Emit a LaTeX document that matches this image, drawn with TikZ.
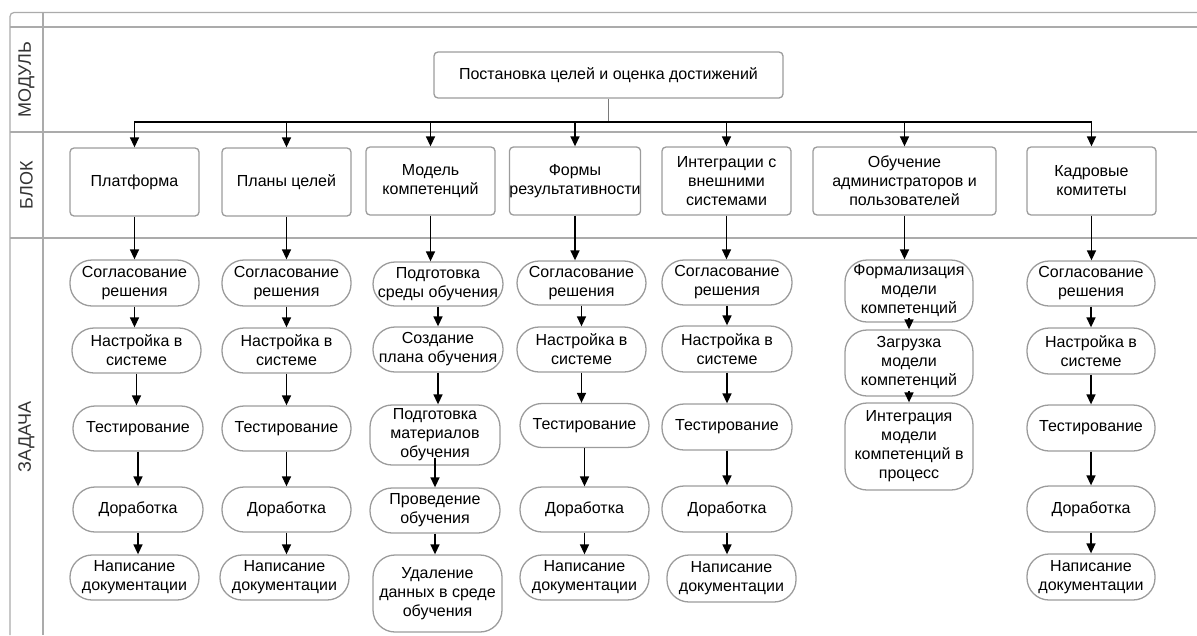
\documentclass[tikz,border=0pt]{standalone}
\usepackage{fontspec}
\setmainfont{Liberation Sans}
\usetikzlibrary{arrows.meta}
\definecolor{frameline}{HTML}{ABABAB}
\definecolor{boxline}{HTML}{9C9C9C}
\definecolor{lanetext}{HTML}{333333}
\definecolor{stemline}{HTML}{7A7A7A}

\begin{document}
\begin{tikzpicture}[x=1pt,y=-1pt,
  txt/.style={font=\fontsize{16}{19}\selectfont, align=center, text=black},
  blockbox/.style={txt, draw=boxline, line width=1.3pt, rounded corners=4pt, fill=white,
    inner sep=0pt, minimum width=129pt, minimum height=68pt},
  taskbox/.style={txt, draw=boxline, line width=1.3pt, rounded corners=22pt, fill=white,
    inner sep=0pt, minimum width=129pt, minimum height=45pt},
  flow/.style={line width=1.5pt, -{Triangle[length=10pt,width=9pt]}},
  lane/.style={draw=frameline, line width=1.2pt},
  lanelabel/.style={font=\fontsize{18}{20}\selectfont, text=lanetext, rotate=90}]

\useasboundingbox (0,0) rectangle (1197,635);

% swimlane frame
\draw[lane, rounded corners=4pt] (10,635) -- (10,12.5) -- (1197,12.5);
\draw[lane] (10,27) -- (1197,27);
\draw[lane] (10,132) -- (1197,132);
\draw[lane] (10,238) -- (1197,238);
\draw[lane] (43,12.5) -- (43,635);

\node[lanelabel] (lmod) at (26.5,79.5) {МОДУЛЬ};
\node[lanelabel] (lblk) at (26.5,185) {БЛОК};
\node[lanelabel] (ltsk) at (26.5,437) {ЗАДАЧА};

% module
\node[blockbox, minimum width=349pt, minimum height=46pt] (top) at (608.5,75)
  {Постановка целей и оценка достижений};

% blocks
\node[blockbox] (b1) at (134.5,182) {Платформа};
\node[blockbox] (b2) at (286.5,182) {Планы целей};
\node[blockbox] (b3) at (430.5,181) {Модель\\компетенций};
\node[blockbox, minimum width=128pt] (b4) at (575,181) {Формы\\результативности};
\node[blockbox] (b5) at (726.5,181) {Интеграции с\\внешними\\системами};
\node[blockbox, minimum width=183pt] (b6) at (904.5,181) {Обучение\\администраторов и\\пользователей};
\node[blockbox] (b7) at (1091.5,181) {Кадровые\\комитеты};

% tasks: Платформа
\node[taskbox, minimum height=46pt] (t11) at (134.5,283) {Согласование\\решения};
\node[taskbox] (t12) at (136.5,350.5) {Настройка в\\системе};
\node[taskbox, minimum width=130pt] (t13) at (138,428.5) {Тестирование};
\node[taskbox, minimum width=130pt] (t14) at (138,509.5) {Доработка};
\node[taskbox] (t15) at (134.5,577.5) {Написание\\документации};

% tasks: Планы целей
\node[taskbox, minimum height=46pt] (t21) at (286.5,283) {Согласование\\решения};
\node[taskbox] (t22) at (286.5,350.5) {Настройка в\\системе};
\node[taskbox] (t23) at (286.5,428.5) {Тестирование};
\node[taskbox] (t24) at (286.5,509.5) {Доработка};
\node[taskbox] (t25) at (284.5,577.5) {Написание\\документации};

% tasks: Модель компетенций
\node[taskbox, minimum width=130pt, minimum height=44pt] (t31) at (438,284) {Подготовка\\среды обучения};
\node[taskbox, minimum width=130pt] (t32) at (438,349.5) {Создание\\плана обучения};
\node[taskbox, minimum width=130pt, minimum height=60pt] (t33) at (435,435) {Подготовка\\материалов\\обучения};
\node[taskbox, minimum width=130pt] (t34) at (435,510.5) {Проведение\\обучения};
\node[taskbox, minimum height=77pt] (t35) at (437.5,593.5) {Удаление\\данных в среде\\обучения};

% tasks: Формы результативности
\node[taskbox, minimum height=44pt] (t41) at (581.5,283) {Согласование\\решения};
\node[taskbox] (t42) at (581.5,349.5) {Настройка в\\системе};
\node[taskbox, minimum height=44pt] (t43) at (584.5,425.5) {Тестирование};
\node[taskbox] (t44) at (584.5,509.5) {Доработка};
\node[taskbox] (t45) at (584.5,577.5) {Написание\\документации};

% tasks: Интеграции с внешними системами
\node[taskbox, minimum width=130pt] (t51) at (727,282.5) {Согласование\\решения};
\node[taskbox, minimum width=130pt, minimum height=46pt] (t52) at (727,349) {Настройка в\\системе};
\node[taskbox, minimum width=130pt, minimum height=46pt] (t53) at (727,427) {Тестирование};
\node[taskbox, minimum width=130pt, minimum height=46pt] (t54) at (727,509) {Доработка};
\node[taskbox, minimum height=47pt] (t55) at (731.5,578.5) {Написание\\документации};

% tasks: Обучение администраторов и пользователей
\node[taskbox, minimum width=128pt, minimum height=62pt] (t61) at (909,291) {Формализация\\модели\\компетенций};
\node[taskbox, minimum width=128pt, minimum height=66pt] (t62) at (909,363) {Загрузка\\модели\\компетенций};
\node[taskbox, minimum width=128pt, minimum height=87pt] (t63) at (909,446.5) {Интеграция\\модели\\компетенций в\\процесс};

% tasks: Кадровые комитеты
\node[taskbox, minimum width=128pt] (t71) at (1091,283.5) {Согласование\\решения};
\node[taskbox, minimum width=128pt, minimum height=46pt] (t72) at (1091,351) {Настройка в\\системе};
\node[taskbox, minimum width=128pt, minimum height=46pt] (t73) at (1091,428) {Тестирование};
\node[taskbox, minimum width=128pt, minimum height=46pt] (t74) at (1091,509) {Доработка};
\node[taskbox, minimum width=128pt, minimum height=46pt] (t75) at (1091,577) {Написание\\документации};

% module to blocks
\coordinate (bus) at (608.5,122);
\draw[stemline, line width=1.3pt] (top.south) -- (bus);
\foreach \b in {b1,b2,b3,b4,b5,b6,b7}
  \draw[flow] (bus) -| (\b.north);

% blocks to first tasks
\foreach \b/\t in {b1/t11,b2/t21,b3/t31,b4/t41,b5/t51,b6/t61,b7/t71}
  \draw[flow] (\b.south) -- (\b.south |- \t.north);

% task chains
\foreach \s/\d in {t11/t12,t12/t13,t13/t14,t14/t15,
                   t21/t22,t22/t23,t23/t24,t24/t25,
                   t31/t32,t32/t33,t34/t35,
                   t41/t42,t42/t43,t43/t44,t44/t45,
                   t51/t52,t52/t53,t53/t54,t54/t55,
                   t71/t72,t72/t73,t73/t74,t74/t75}
  \draw[flow] (\s.south) -- (\s.south |- \d.north);

% chains whose arrows start inside the source shape
\draw[flow] ([yshift=8pt]t33.south) -- (t33.south |- t34.north);
\draw[flow] ([yshift=5pt]t61.south) -- (t61.south |- t62.north);
\draw[flow] ([yshift=6pt]t62.south) -- (t62.south |- t63.north);
\end{tikzpicture}
\end{document}
